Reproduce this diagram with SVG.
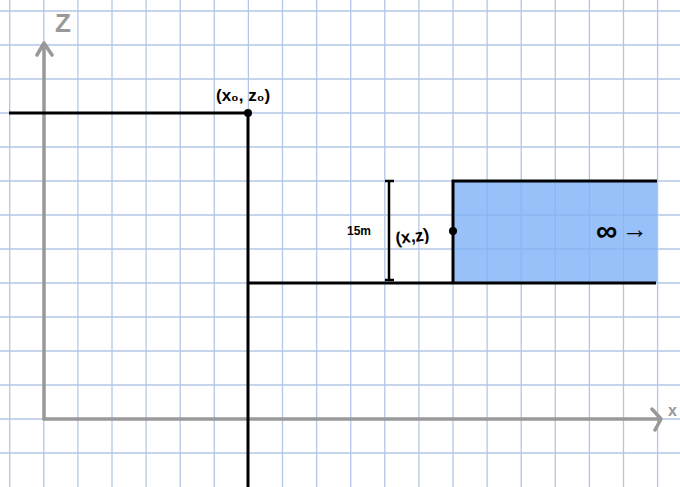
<svg xmlns="http://www.w3.org/2000/svg" width="680" height="487" viewBox="0 0 680 487">
<defs>
<style>
.grid line{stroke:#b3c6e6;stroke-width:1.3}
.ax{stroke:#999;stroke-width:3.5;fill:none;stroke-linecap:round;stroke-linejoin:round}
.bk{stroke:#000;stroke-width:3;fill:none}
.lbl{font-family:"Liberation Sans",Arial,sans-serif;fill:#000;font-weight:bold}
.axl{font-family:"Liberation Sans",Arial,sans-serif;fill:#999;font-weight:bold}
</style>
</defs>
<rect x="0" y="0" width="680" height="487" fill="#fff"/>
<g class="grid">
<line x1="9.7" y1="0" x2="9.7" y2="487"/>
<line x1="43.8" y1="0" x2="43.8" y2="487"/>
<line x1="77.9" y1="0" x2="77.9" y2="487"/>
<line x1="112" y1="0" x2="112" y2="487"/>
<line x1="146.1" y1="0" x2="146.1" y2="487"/>
<line x1="180.2" y1="0" x2="180.2" y2="487"/>
<line x1="214.3" y1="0" x2="214.3" y2="487"/>
<line x1="248.4" y1="0" x2="248.4" y2="487"/>
<line x1="282.5" y1="0" x2="282.5" y2="487"/>
<line x1="316.6" y1="0" x2="316.6" y2="487"/>
<line x1="350.7" y1="0" x2="350.7" y2="487"/>
<line x1="384.8" y1="0" x2="384.8" y2="487"/>
<line x1="418.9" y1="0" x2="418.9" y2="487"/>
<line x1="453" y1="0" x2="453" y2="487"/>
<line x1="487.1" y1="0" x2="487.1" y2="487"/>
<line x1="521.2" y1="0" x2="521.2" y2="487"/>
<line x1="555.3" y1="0" x2="555.3" y2="487"/>
<line x1="589.4" y1="0" x2="589.4" y2="487"/>
<line x1="623.5" y1="0" x2="623.5" y2="487"/>
<line x1="657.6" y1="0" x2="657.6" y2="487"/>
<line x1="0" y1="11" x2="680" y2="11"/>
<line x1="0" y1="45" x2="680" y2="45"/>
<line x1="0" y1="79" x2="680" y2="79"/>
<line x1="0" y1="113" x2="680" y2="113"/>
<line x1="0" y1="147" x2="680" y2="147"/>
<line x1="0" y1="181" x2="680" y2="181"/>
<line x1="0" y1="215" x2="680" y2="215"/>
<line x1="0" y1="249" x2="680" y2="249"/>
<line x1="0" y1="283" x2="680" y2="283"/>
<line x1="0" y1="317" x2="680" y2="317"/>
<line x1="0" y1="351" x2="680" y2="351"/>
<line x1="0" y1="385" x2="680" y2="385"/>
<line x1="0" y1="419" x2="680" y2="419"/>
<line x1="0" y1="453" x2="680" y2="453"/>
</g>
<g id="axes">
<path class="ax" d="M44 419 V43 M37 55 L44 43 L52 55"/>
<path class="ax" d="M44 419 H660 M652 409 L661 419 L655 430"/>
<text class="axl" x="55" y="32" font-size="26">Z</text>
<text class="axl" x="668" y="416" font-size="16">x</text>
</g>
<g id="water">
<rect x="453" y="181" width="204" height="102" fill="#7fb2f8" fill-opacity="0.8"/>
</g>
<g id="connectors">
<path class="bk" d="M9 113 H248 V487"/>
<path class="bk" d="M248 283 H656"/>
<path class="bk" d="M453 283 V181 H657"/>
<path d="M389 181 V280 M385 181 H394 M385 280 H394" stroke="#000" stroke-width="2.5" fill="none"/>
</g>
<g id="p0">
<circle cx="248" cy="113" r="4" fill="#000"/>
<text class="lbl" x="216" y="101" font-size="17">(x₀, z₀)</text>
</g>
<g id="p1">
<circle cx="453" cy="231" r="4" fill="#000"/>
<text class="lbl" x="395" y="241" font-size="17" transform="rotate(-8 420 234)">(x,z)</text>
</g>
<g id="dim">
<text class="lbl" x="347" y="235" font-size="12">15m</text>
</g>
<g id="inf">
<text class="lbl" x="596" y="241" font-size="30">∞</text>
<text class="lbl" x="622" y="238" font-size="26">→</text>
</g>
</svg>
